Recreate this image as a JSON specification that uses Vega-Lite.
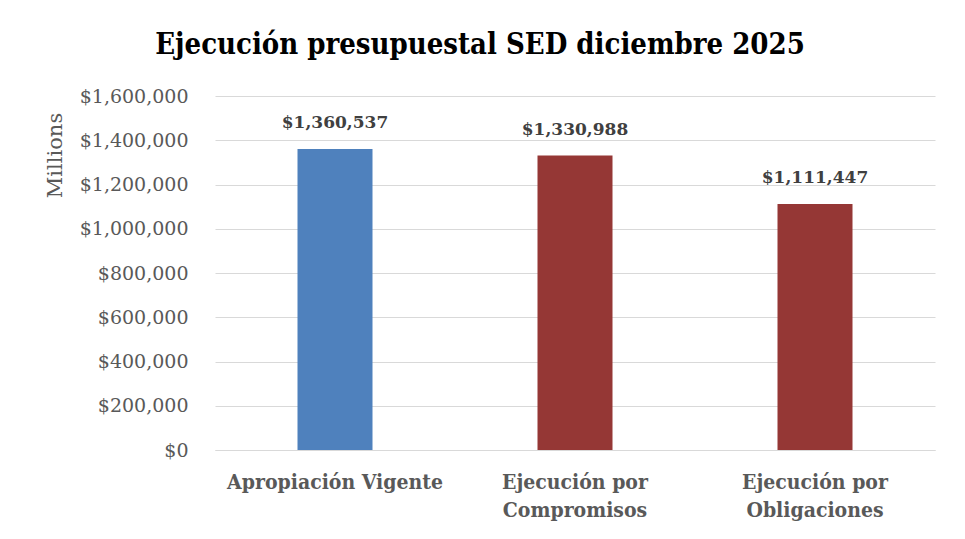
{
  "$schema": "https://vega.github.io/schema/vega-lite/v6.json",
  "width": 720,
  "height": 354,
  "autosize": {"type": "none"},
  "padding": {"left": 215, "top": 96, "right": 30, "bottom": 89},
  "background": "white",
  "title": {
    "text": "Ejecución presupuestal SED diciembre 2025",
    "font": "DejaVu Serif Condensed, Liberation Serif",
    "fontSize": 29,
    "fontWeight": "bold",
    "color": "#000000",
    "anchor": "middle",
    "frame": "group",
    "dx": -95,
    "baseline": "alphabetic",
    "offset": 4
  },
  "data": {
    "values": [
      {"categoria": "Apropiación Vigente", "valor": 1360537, "tipo": "Apropiación"},
      {"categoria": "Ejecución por Compromisos", "valor": 1330988, "tipo": "Ejecución"},
      {"categoria": "Ejecución por Obligaciones", "valor": 1111447, "tipo": "Ejecución"}
    ]
  },
  "encoding": {
    "x": {
      "field": "categoria",
      "type": "nominal",
      "sort": null,
      "title": null,
      "axis": {
        "labelAngle": 0,
        "ticks": false,
        "domain": true,
        "domainColor": "#d9d9d9",
        "domainWidth": 1,
        "labelFont": "DejaVu Serif Condensed, Liberation Serif",
        "labelFontSize": 21,
        "labelFontWeight": "bold",
        "labelColor": "#595959",
        "labelPadding": 21,
        "labelLineHeight": 28,
        "labelLimit": 0,
        "labelExpr": "indexof(datum.value, 'Ejecución por ') == 0 ? ['Ejecución por', substring(datum.value, 14)] : datum.value"
      }
    }
  },
  "layer": [
    {
      "mark": {"type": "bar", "width": 75},
      "encoding": {
        "y": {
          "field": "valor",
          "type": "quantitative",
          "scale": {"domain": [0, 1600000], "nice": false},
          "axis": {
            "title": "Millions",
            "titleFont": "DejaVu Serif",
            "titleFontSize": 21,
            "titleFontWeight": "normal",
            "titleColor": "#595959",
            "titleAngle": -90,
            "titleX": -160,
            "titleY": 59,
            "titleAlign": "center",
            "titleBaseline": "middle",
            "values": [0, 200000, 400000, 600000, 800000, 1000000, 1200000, 1400000, 1600000],
            "format": "$,.0f",
            "labelFont": "DejaVu Serif",
            "labelFontSize": 19,
            "labelColor": "#595959",
            "labelPadding": 27,
            "ticks": false,
            "domain": false,
            "grid": true,
            "gridColor": "#d9d9d9",
            "gridWidth": 1
          }
        },
        "color": {
          "field": "tipo",
          "type": "nominal",
          "scale": {"domain": ["Apropiación", "Ejecución"], "range": ["#4f81bd", "#953735"]},
          "legend": null
        }
      }
    },
    {
      "mark": {
        "type": "text",
        "font": "DejaVu Serif",
        "fontSize": 17,
        "fontWeight": "bold",
        "color": "#404040",
        "baseline": "alphabetic",
        "dy": -21
      },
      "encoding": {
        "y": {"field": "valor", "type": "quantitative"},
        "text": {"field": "valor", "type": "quantitative", "format": "$,.0f"}
      }
    }
  ],
  "config": {
    "view": {"stroke": null}
  }
}
